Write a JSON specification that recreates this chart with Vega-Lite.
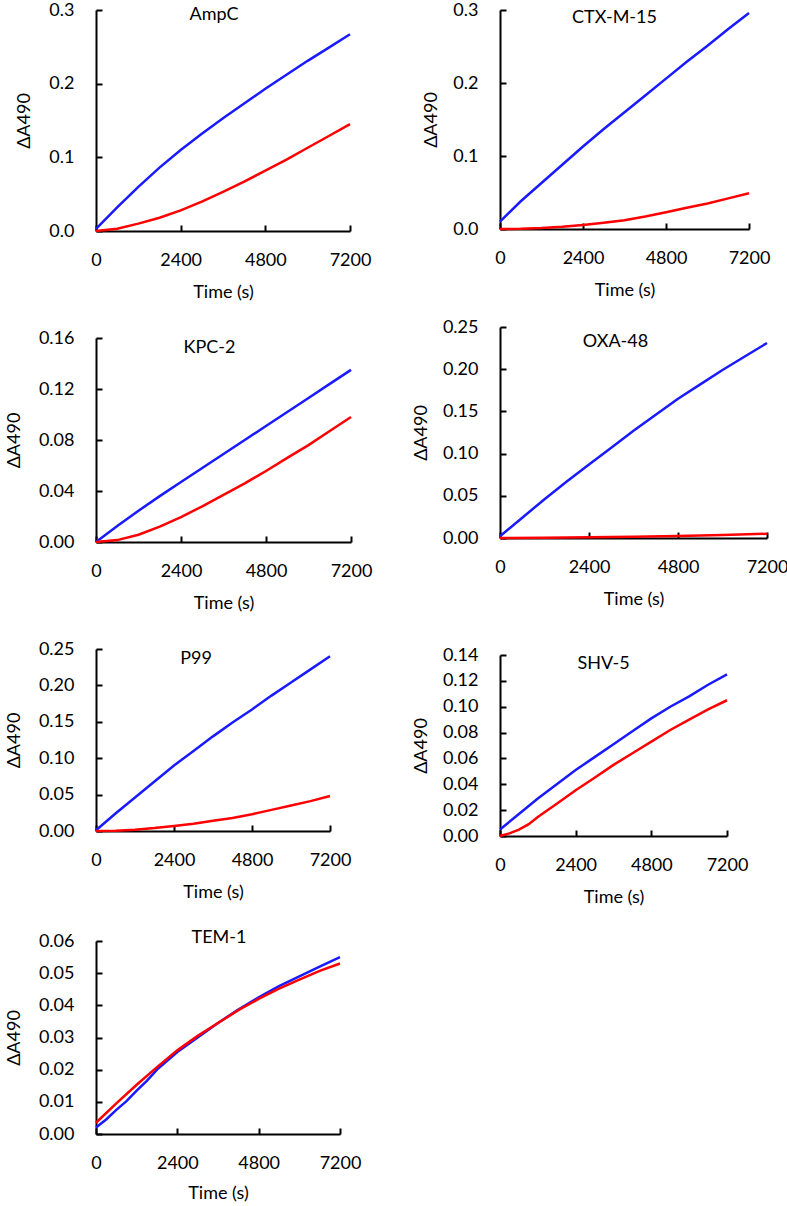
{
  "$schema": "https://vega.github.io/schema/vega-lite/v6.json",
  "padding": {"left": 5, "top": 1, "right": 0, "bottom": 0},
  "datasets": {
    "ampc": [
      {"t":0,"s":"b","v":0.003},{"t":600,"s":"b","v":0.032},{"t":1200,"s":"b","v":0.060},{"t":1800,"s":"b","v":0.086},{"t":2400,"s":"b","v":0.110},{"t":3000,"s":"b","v":0.132},{"t":3600,"s":"b","v":0.153},{"t":4200,"s":"b","v":0.173},{"t":4800,"s":"b","v":0.193},{"t":5400,"s":"b","v":0.212},{"t":6000,"s":"b","v":0.231},{"t":6600,"s":"b","v":0.249},{"t":7200,"s":"b","v":0.267},
      {"t":0,"s":"r","v":0.0},{"t":600,"s":"r","v":0.003},{"t":1200,"s":"r","v":0.010},{"t":1800,"s":"r","v":0.018},{"t":2400,"s":"r","v":0.028},{"t":3000,"s":"r","v":0.040},{"t":3600,"s":"r","v":0.053},{"t":4200,"s":"r","v":0.067},{"t":4800,"s":"r","v":0.082},{"t":5400,"s":"r","v":0.097},{"t":6000,"s":"r","v":0.113},{"t":6600,"s":"r","v":0.129},{"t":7200,"s":"r","v":0.145}
    ],
    "ctx": [
      {"t":0,"s":"b","v":0.010},{"t":600,"s":"b","v":0.038},{"t":1200,"s":"b","v":0.063},{"t":1800,"s":"b","v":0.088},{"t":2400,"s":"b","v":0.113},{"t":3000,"s":"b","v":0.137},{"t":3600,"s":"b","v":0.160},{"t":4200,"s":"b","v":0.183},{"t":4800,"s":"b","v":0.206},{"t":5400,"s":"b","v":0.229},{"t":6000,"s":"b","v":0.251},{"t":6600,"s":"b","v":0.274},{"t":7200,"s":"b","v":0.296},
      {"t":0,"s":"r","v":0.0},{"t":600,"s":"r","v":0.0003},{"t":1200,"s":"r","v":0.0013},{"t":1800,"s":"r","v":0.003},{"t":2400,"s":"r","v":0.0055},{"t":3000,"s":"r","v":0.0085},{"t":3600,"s":"r","v":0.012},{"t":4200,"s":"r","v":0.017},{"t":4800,"s":"r","v":0.023},{"t":5400,"s":"r","v":0.029},{"t":6000,"s":"r","v":0.035},{"t":6600,"s":"r","v":0.042},{"t":7200,"s":"r","v":0.049}
    ],
    "kpc": [
      {"t":0,"s":"b","v":0.0},{"t":600,"s":"b","v":0.0125},{"t":1200,"s":"b","v":0.0245},{"t":1800,"s":"b","v":0.036},{"t":2400,"s":"b","v":0.047},{"t":3000,"s":"b","v":0.058},{"t":3600,"s":"b","v":0.069},{"t":4200,"s":"b","v":0.080},{"t":4800,"s":"b","v":0.091},{"t":5400,"s":"b","v":0.102},{"t":6000,"s":"b","v":0.113},{"t":6600,"s":"b","v":0.124},{"t":7200,"s":"b","v":0.135},
      {"t":0,"s":"r","v":0.0},{"t":600,"s":"r","v":0.0015},{"t":1200,"s":"r","v":0.0057},{"t":1800,"s":"r","v":0.012},{"t":2400,"s":"r","v":0.0195},{"t":3000,"s":"r","v":0.028},{"t":3600,"s":"r","v":0.037},{"t":4200,"s":"r","v":0.046},{"t":4800,"s":"r","v":0.0557},{"t":5400,"s":"r","v":0.066},{"t":6000,"s":"r","v":0.076},{"t":6600,"s":"r","v":0.087},{"t":7200,"s":"r","v":0.098}
    ],
    "oxa": [
      {"t":0,"s":"b","v":0.002},{"t":600,"s":"b","v":0.024},{"t":1200,"s":"b","v":0.046},{"t":1800,"s":"b","v":0.067},{"t":2400,"s":"b","v":0.087},{"t":3000,"s":"b","v":0.107},{"t":3600,"s":"b","v":0.127},{"t":4200,"s":"b","v":0.146},{"t":4800,"s":"b","v":0.165},{"t":5400,"s":"b","v":0.182},{"t":6000,"s":"b","v":0.199},{"t":6600,"s":"b","v":0.215},{"t":7200,"s":"b","v":0.231},
      {"t":0,"s":"r","v":0.0},{"t":1200,"s":"r","v":0.0003},{"t":2400,"s":"r","v":0.0008},{"t":3600,"s":"r","v":0.0015},{"t":4800,"s":"r","v":0.0025},{"t":6000,"s":"r","v":0.0037},{"t":7200,"s":"r","v":0.005}
    ],
    "p99": [
      {"t":0,"s":"b","v":0.001},{"t":600,"s":"b","v":0.024},{"t":1200,"s":"b","v":0.046},{"t":1800,"s":"b","v":0.068},{"t":2400,"s":"b","v":0.090},{"t":3000,"s":"b","v":0.110},{"t":3600,"s":"b","v":0.130},{"t":4200,"s":"b","v":0.149},{"t":4800,"s":"b","v":0.167},{"t":5400,"s":"b","v":0.186},{"t":6000,"s":"b","v":0.204},{"t":6600,"s":"b","v":0.222},{"t":7200,"s":"b","v":0.240},
      {"t":0,"s":"r","v":0.0},{"t":600,"s":"r","v":0.0005},{"t":1200,"s":"r","v":0.0018},{"t":1800,"s":"r","v":0.004},{"t":2400,"s":"r","v":0.0068},{"t":3000,"s":"r","v":0.010},{"t":3600,"s":"r","v":0.014},{"t":4200,"s":"r","v":0.018},{"t":4800,"s":"r","v":0.023},{"t":5400,"s":"r","v":0.029},{"t":6000,"s":"r","v":0.035},{"t":6600,"s":"r","v":0.041},{"t":7200,"s":"r","v":0.048}
    ],
    "shv": [
      {"t":0,"s":"b","v":0.005},{"t":600,"s":"b","v":0.017},{"t":1200,"s":"b","v":0.029},{"t":1800,"s":"b","v":0.040},{"t":2400,"s":"b","v":0.051},{"t":3000,"s":"b","v":0.061},{"t":3600,"s":"b","v":0.071},{"t":4200,"s":"b","v":0.081},{"t":4800,"s":"b","v":0.091},{"t":5400,"s":"b","v":0.100},{"t":6000,"s":"b","v":0.108},{"t":6600,"s":"b","v":0.117},{"t":7200,"s":"b","v":0.125},
      {"t":0,"s":"r","v":0.0},{"t":300,"s":"r","v":0.002},{"t":600,"s":"r","v":0.005},{"t":900,"s":"r","v":0.009},{"t":1200,"s":"r","v":0.0147},{"t":1800,"s":"r","v":0.025},{"t":2400,"s":"r","v":0.0354},{"t":3000,"s":"r","v":0.045},{"t":3600,"s":"r","v":0.055},{"t":4200,"s":"r","v":0.064},{"t":4800,"s":"r","v":0.073},{"t":5400,"s":"r","v":0.082},{"t":6000,"s":"r","v":0.090},{"t":6600,"s":"r","v":0.098},{"t":7200,"s":"r","v":0.105}
    ],
    "tem": [
      {"t":0,"s":"b","v":0.002},{"t":300,"s":"b","v":0.0045},{"t":600,"s":"b","v":0.0075},{"t":900,"s":"b","v":0.0102},{"t":1200,"s":"b","v":0.0135},{"t":1500,"s":"b","v":0.0165},{"t":1800,"s":"b","v":0.020},{"t":2400,"s":"b","v":0.0255},{"t":3000,"s":"b","v":0.030},{"t":3600,"s":"b","v":0.0345},{"t":4200,"s":"b","v":0.0387},{"t":4800,"s":"b","v":0.0425},{"t":5400,"s":"b","v":0.046},{"t":6000,"s":"b","v":0.049},{"t":6600,"s":"b","v":0.052},{"t":7200,"s":"b","v":0.055},
      {"t":0,"s":"r","v":0.0035},{"t":600,"s":"r","v":0.0095},{"t":1200,"s":"r","v":0.0153},{"t":1800,"s":"r","v":0.0208},{"t":2400,"s":"r","v":0.026},{"t":3000,"s":"r","v":0.0305},{"t":3600,"s":"r","v":0.0345},{"t":4200,"s":"r","v":0.0385},{"t":4800,"s":"r","v":0.042},{"t":5400,"s":"r","v":0.0452},{"t":6000,"s":"r","v":0.048},{"t":6600,"s":"r","v":0.0507},{"t":7200,"s":"r","v":0.053}
    ]
  },
  "hconcat": [
    {
      "vconcat": [
        {
          "width": 254, "height": 221,
          "title": {"text": "AmpC", "offset": -23, "dx": -9},
          "data": {"name": "ampc"},
          "mark": {"type": "line", "strokeWidth": 2.5},
          "encoding": {
            "x": {"field": "t", "type": "quantitative", "scale": {"domain": [0, 7200], "nice": false}, "axis": {"values": [0, 2400, 4800, 7200], "format": "d", "title": "Time (s)"}},
            "y": {"field": "v", "type": "quantitative", "scale": {"domain": [0, 0.3], "nice": false}, "axis": {"values": [0, 0.1, 0.2, 0.3], "format": ".1f", "title": "ΔA490", "titlePadding": 15}},
            "color": {"field": "s", "type": "nominal", "scale": {"domain": ["b", "r"], "range": ["#1a1aff", "#ff0000"]}, "legend": null}
          }
        },
        {
          "width": 255, "height": 204,
          "title": {"text": "KPC-2", "offset": -28, "dx": -14},
          "data": {"name": "kpc"},
          "mark": {"type": "line", "strokeWidth": 2.5},
          "encoding": {
            "x": {"field": "t", "type": "quantitative", "scale": {"domain": [0, 7200], "nice": false}, "axis": {"values": [0, 2400, 4800, 7200], "format": "d", "title": "Time (s)"}},
            "y": {"field": "v", "type": "quantitative", "scale": {"domain": [0, 0.16], "nice": false}, "axis": {"values": [0, 0.04, 0.08, 0.12, 0.16], "format": ".2f", "title": "ΔA490", "titlePadding": 15}},
            "color": {"field": "s", "type": "nominal", "scale": {"domain": ["b", "r"], "range": ["#1a1aff", "#ff0000"]}, "legend": null}
          }
        },
        {
          "width": 234, "height": 182,
          "title": {"text": "P99", "offset": -28, "dx": -17},
          "data": {"name": "p99"},
          "mark": {"type": "line", "strokeWidth": 2.5},
          "encoding": {
            "x": {"field": "t", "type": "quantitative", "scale": {"domain": [0, 7200], "nice": false}, "axis": {"values": [0, 2400, 4800, 7200], "format": "d", "title": "Time (s)"}},
            "y": {"field": "v", "type": "quantitative", "scale": {"domain": [0, 0.25], "nice": false}, "axis": {"values": [0, 0.05, 0.1, 0.15, 0.2, 0.25], "format": ".2f", "title": "ΔA490", "titlePadding": 15}},
            "color": {"field": "s", "type": "nominal", "scale": {"domain": ["b", "r"], "range": ["#1a1aff", "#ff0000"]}, "legend": null}
          }
        },
        {
          "width": 244, "height": 193,
          "title": {"text": "TEM-1", "offset": -15, "dx": 1},
          "data": {"name": "tem"},
          "mark": {"type": "line", "strokeWidth": 2.5},
          "encoding": {
            "x": {"field": "t", "type": "quantitative", "scale": {"domain": [0, 7200], "nice": false}, "axis": {"values": [0, 2400, 4800, 7200], "format": "d", "title": "Time (s)", "titlePadding": 12}},
            "y": {"field": "v", "type": "quantitative", "scale": {"domain": [0, 0.06], "nice": false}, "axis": {"values": [0, 0.01, 0.02, 0.03, 0.04, 0.05, 0.06], "format": ".2f", "title": "ΔA490", "titlePadding": 15}},
            "color": {"field": "s", "type": "nominal", "scale": {"domain": ["b", "r"], "range": ["#1a1aff", "#ff0000"]}, "legend": null}
          }
        }
      ],
      "spacing": 28
    },
    {
      "vconcat": [
        {
          "width": 249, "height": 219,
          "title": {"text": "CTX-M-15", "offset": -26, "dx": -10},
          "data": {"name": "ctx"},
          "mark": {"type": "line", "strokeWidth": 2.5},
          "encoding": {
            "x": {"field": "t", "type": "quantitative", "scale": {"domain": [0, 7200], "nice": false}, "axis": {"values": [0, 2400, 4800, 7200], "format": "d", "title": "Time (s)"}},
            "y": {"field": "v", "type": "quantitative", "scale": {"domain": [0, 0.3], "nice": false}, "axis": {"values": [0, 0.1, 0.2, 0.3], "format": ".1f", "title": "ΔA490"}},
            "color": {"field": "s", "type": "nominal", "scale": {"domain": ["b", "r"], "range": ["#1a1aff", "#ff0000"]}, "legend": null}
          }
        },
        {
          "width": 267, "height": 211,
          "title": {"text": "OXA-48", "offset": -33, "dx": -18},
          "data": {"name": "oxa"},
          "mark": {"type": "line", "strokeWidth": 2.5},
          "encoding": {
            "x": {"field": "t", "type": "quantitative", "scale": {"domain": [0, 7200], "nice": false}, "axis": {"values": [0, 2400, 4800, 7200], "format": "d", "title": "Time (s)"}},
            "y": {"field": "v", "type": "quantitative", "scale": {"domain": [0, 0.25], "nice": false}, "axis": {"values": [0, 0.05, 0.1, 0.15, 0.2, 0.25], "format": ".2f", "title": "ΔA490"}},
            "color": {"field": "s", "type": "nominal", "scale": {"domain": ["b", "r"], "range": ["#1a1aff", "#ff0000"]}, "legend": null}
          }
        },
        {
          "width": 227, "height": 181,
          "title": {"text": ["", "SHV-5"], "offset": -27, "dx": -10, "lineHeight": 28},
          "data": {"name": "shv"},
          "mark": {"type": "line", "strokeWidth": 2.5},
          "encoding": {
            "x": {"field": "t", "type": "quantitative", "scale": {"domain": [0, 7200], "nice": false}, "axis": {"values": [0, 2400, 4800, 7200], "format": "d", "title": "Time (s)"}},
            "y": {"field": "v", "type": "quantitative", "scale": {"domain": [0, 0.14], "nice": false}, "axis": {"values": [0, 0.02, 0.04, 0.06, 0.08, 0.1, 0.12, 0.14], "format": ".2f", "title": "ΔA490"}},
            "color": {"field": "s", "type": "nominal", "scale": {"domain": ["b", "r"], "range": ["#1a1aff", "#ff0000"]}, "legend": null}
          }
        }
      ],
      "spacing": 19
    }
  ],
  "spacing": 40,
  "config": {
    "view": {"stroke": null},
    "font": "Lato",
    "axis": {
      "grid": false,
      "domainColor": "black",
      "domainWidth": 2,
      "tickColor": "black",
      "tickWidth": 2,
      "tickSize": -6,
      "labelFont": "Lato",
      "labelFontSize": 18,
      "labelColor": "black",
      "labelFlush": false,
      "labelOverlap": false,
      "titleFont": "Lato",
      "titleFontSize": 18,
      "titleFontWeight": "normal",
      "titleColor": "black"
    },
    "axisX": {"labelPadding": 26, "titlePadding": 14},
    "axisY": {"labelPadding": 28, "titlePadding": 12},
    "title": {"font": "Lato", "fontSize": 18, "fontWeight": "normal", "color": "black", "frame": "group", "anchor": "middle", "baseline": "alphabetic"}
  }
}
